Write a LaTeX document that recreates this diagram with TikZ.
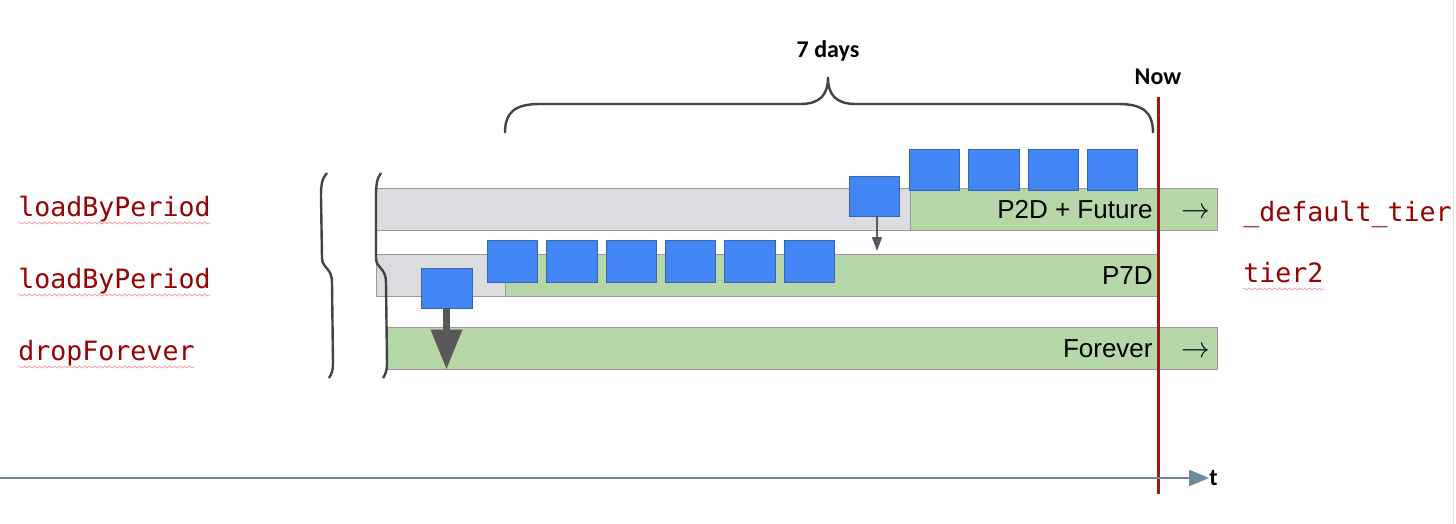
\documentclass[tikz,border=0pt]{standalone}
\usepackage{fontspec}
\setmainfont{Liberation Sans}
\newfontfamily\codefont{DejaVu Sans Mono}
\newfontfamily\headfont{Carlito}
\usetikzlibrary{fit,arrows.meta,decorations.pathmorphing}
\definecolor{blk}{HTML}{4285F4}
\definecolor{blkline}{HTML}{3C64A8}
\definecolor{grn}{HTML}{B6D7A8}
\definecolor{gry}{HTML}{DADCE0}
\definecolor{barline}{HTML}{9A9A9A}
\definecolor{darkred}{HTML}{990000}
\definecolor{nowred}{HTML}{A01515}
\definecolor{axis}{HTML}{6D8A9C}
\definecolor{bracec}{HTML}{444444}
\definecolor{arrowc}{HTML}{595959}
\tikzset{
  greenbar/.style={draw=barline,fill=grn,line width=0.5pt,inner sep=0pt},
  graybar/.style={draw=barline,fill=gry,line width=0.5pt,inner sep=0pt},
  seg/.style={draw=blkline,fill=blk,line width=0.4pt,inner sep=0pt},
  bartext/.style={inner sep=0pt,font=\fontsize{13}{15}\selectfont},
  bararrow/.style={inner sep=0pt,font=\fontsize{15}{17}\selectfont},
  codelabel/.style={inner sep=0pt,text=darkred,font=\codefont\fontsize{13.3}{15}\selectfont},
  headlabel/.style={inner sep=0pt,font=\headfont\bfseries\fontsize{12}{14}\selectfont},
  squiggle/.style={draw={rgb,255:red,240;green,160;blue,160},line width=0.4pt,decorate,decoration={snake,amplitude=0.5pt,segment length=2.5pt}},
  bracestyle/.style={draw=bracec,line width=1.2pt},
}
\begin{document}
\begin{tikzpicture}[x=0.5pt,y=-0.5pt]
\useasboundingbox (0,0) rectangle (1456,524);
% faint frame edge
\draw[gray!25,line width=0.5pt] (1453,0) -- (1453,524);
% bars
\node[graybar,fit={(376,188) (910,230)}] (gray1) {};
\node[greenbar,fit={(910,188) (1217,230)}] (green1) {};
\node[graybar,fit={(376,254) (505,296)}] (gray2) {};
\node[greenbar,fit={(505,254) (1158,296)}] (green2) {};
\node[greenbar,fit={(387,327) (1217,369)}] (forever) {};
% bar texts
\node[bartext,anchor=base east] (t1) at (1153,218) {P2D + Future};
\node[bararrow,anchor=base] (a1) at (1196,218) {$\rightarrow$};
\node[bartext,anchor=base east] (t2) at (1153,284) {P7D};
\node[bartext,anchor=base east] (t3) at (1153,357) {Forever};
\node[bararrow,anchor=base] (a3) at (1196,357) {$\rightarrow$};
% segments row 1
\node[seg,fit={(909,149) (959,190)}] (s11) {};
\node[seg,fit={(968,149) (1019,190)}] (s12) {};
\node[seg,fit={(1028,149) (1078,190)}] (s13) {};
\node[seg,fit={(1087,149) (1137,190)}] (s14) {};
\node[seg,fit={(849,176) (899,216)}] (move1) {};
% segments row 2
\node[seg,fit={(487,240) (537,282)}] (s21) {};
\node[seg,fit={(546,240) (597,282)}] (s22) {};
\node[seg,fit={(606,240) (656,282)}] (s23) {};
\node[seg,fit={(665,240) (715,282)}] (s24) {};
\node[seg,fit={(724,240) (775,282)}] (s25) {};
\node[seg,fit={(784,240) (834,282)}] (s26) {};
\node[seg,fit={(421,268) (472,308)}] (drop) {};
% arrows
\coordinate (m1end) at (877,251);
\draw[arrowc,line width=1pt,-{Triangle[width=5pt,length=7pt]}] ([xshift=1.5pt]move1.south) -- (m1end);
\draw[arrowc,line width=3.5pt,-{Triangle[width=15pt,length=20pt]}] (drop.south) -- (drop.south |- forever.south);
% now line
\node[headlabel] (now) at (1158,77) {Now};
\coordinate (nowbot) at (1158,494);
\draw[nowred,line width=1.5pt] (1158,97) -- (nowbot);
% time axis
\coordinate (t0) at (0,478);
\node[headlabel,anchor=west] (tl) at (1209,478) {t};
\draw[axis,line width=1.2pt,-{Triangle[width=8pt,length=10pt]}] (t0) -- (tl.west);
% top brace
\node[headlabel] (days) at (828,51) {7 days};
\draw[bracestyle] (505,133) .. controls (505,112) and (515,104) .. (540,104) -- (800,104)
  .. controls (820,104) and (828,95) .. (828,77)
  .. controls (828,95) and (836,104) .. (856,104) -- (1118,104)
  .. controls (1143,104) and (1153,112) .. (1153,133);
% left braces
\draw[bracestyle] (327,173) .. controls (322,178) and (321,185) .. (321,196) -- (322,258)
  .. controls (322,268) and (332,268) .. (332,282) -- (333,364)
  .. controls (333,371) and (331,375) .. (329,378);
\draw[bracestyle] (381,173) .. controls (377,178) and (376,185) .. (376,196) -- (376,258)
  .. controls (376,268) and (386,268) .. (386,282) -- (387,364)
  .. controls (387,371) and (385,375) .. (383,378);
% code labels
\node[codelabel,anchor=base west] (l1) at (18,216) {loadByPeriod};
\node[codelabel,anchor=base west] (l2) at (18,288) {loadByPeriod};
\node[codelabel,anchor=base west] (l3) at (18,360) {dropForever};
\node[codelabel,anchor=base west] (r1) at (1243,221) {\_default\_tier};
\node[codelabel,anchor=base west] (r2) at (1243,282) {tier2};
\draw[squiggle] ([yshift=-3.5pt]l1.base west) -- ([yshift=-3.5pt]l1.base east);
\draw[squiggle] ([yshift=-3.5pt]l2.base west) -- ([yshift=-3.5pt]l2.base east);
\draw[squiggle] ([yshift=-3.5pt]l3.base west) -- ([yshift=-3.5pt]l3.base east);
\draw[squiggle] ([yshift=-3.5pt]r2.base west) -- ([yshift=-3.5pt]r2.base east);
\end{tikzpicture}
\end{document}
